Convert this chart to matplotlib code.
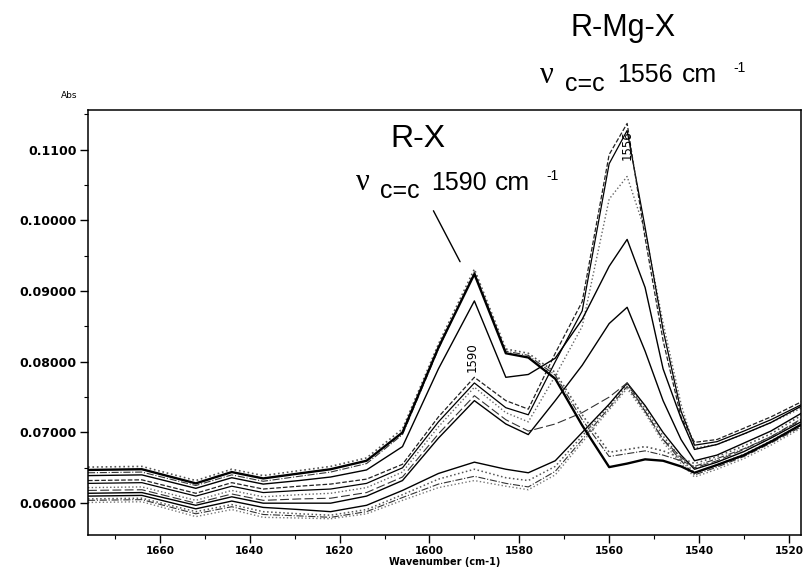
import matplotlib
matplotlib.use("Agg")
import matplotlib.pyplot as plt
from matplotlib.ticker import MultipleLocator, FixedLocator, FixedFormatter

# wavenumber grid (cm-1) and absorbance
wavenumber = [1676, 1664, 1652, 1644, 1637, 1629, 1622, 1614, 1606, 1598, 1590, 1583, 1578,
              1572, 1566, 1560, 1556, 1552, 1548, 1544, 1541, 1536, 1530, 1524, 1517]

# R-X rich spectra (strong 1590 band)
rx_dotted = [0.0651, 0.0652, 0.0632, 0.0648, 0.0639, 0.0646, 0.0652, 0.0664, 0.0705, 0.0825, 0.0931, 0.0818, 0.0812,
             0.0785, 0.0725, 0.0672, 0.0676, 0.0680, 0.0674, 0.0664, 0.0656, 0.0666, 0.0681, 0.0698, 0.0725]
rx_thick = [0.0647, 0.0648, 0.0628, 0.0644, 0.0635, 0.0642, 0.0648, 0.0660, 0.0700, 0.0820, 0.0924, 0.0812, 0.0806,
            0.0776, 0.0710, 0.0651, 0.0656, 0.0662, 0.0660, 0.0652, 0.0643, 0.0654, 0.0668, 0.0687, 0.0712]
rx_dashdot = [0.0643, 0.0644, 0.0625, 0.0640, 0.0631, 0.0638, 0.0644, 0.0656, 0.0697, 0.0818, 0.0927, 0.0815, 0.0809,
              0.0781, 0.0718, 0.0666, 0.0670, 0.0674, 0.0668, 0.0660, 0.0652, 0.0663, 0.0677, 0.0694, 0.0720]
rx_mixed = [0.0639, 0.0640, 0.0621, 0.0636, 0.0627, 0.0632, 0.0637, 0.0647, 0.0680, 0.0790, 0.0886, 0.0778, 0.0782,
            0.0805, 0.0860, 0.0935, 0.0973, 0.0905, 0.0790, 0.0720, 0.0676, 0.0683, 0.0698, 0.0714, 0.0738]

# R-Mg-X rich spectra (strong 1556 band)
mg_dashed = [0.0632, 0.0633, 0.0614, 0.0629, 0.0620, 0.0624, 0.0627, 0.0634, 0.0655, 0.0722, 0.0778, 0.0745, 0.0733,
             0.0812, 0.0885, 0.1093, 0.1137, 0.0975, 0.0830, 0.0722, 0.0686, 0.0690, 0.0706, 0.0722, 0.0744]
mg_solid = [0.0628, 0.0629, 0.0610, 0.0624, 0.0615, 0.0618, 0.0620, 0.0628, 0.0650, 0.0715, 0.0770, 0.0735, 0.0725,
            0.0800, 0.0872, 0.1080, 0.1127, 0.0990, 0.0845, 0.0730, 0.0682, 0.0687, 0.0702, 0.0718, 0.0740]
mg_dotted = [0.0622, 0.0623, 0.0604, 0.0618, 0.0609, 0.0612, 0.0614, 0.0622, 0.0644, 0.0708, 0.0764, 0.0728, 0.0715,
             0.0780, 0.0850, 0.1030, 0.1062, 0.0985, 0.0855, 0.0740, 0.0678, 0.0683, 0.0698, 0.0714, 0.0735]
mg_mid = [0.0614, 0.0615, 0.0597, 0.0609, 0.0600, 0.0600, 0.0600, 0.0610, 0.0632, 0.0692, 0.0745, 0.0712, 0.0697,
          0.0745, 0.0795, 0.0854, 0.0877, 0.0815, 0.0745, 0.0690, 0.0660, 0.0668, 0.0685, 0.0702, 0.0728]
mg_longdash = [0.0618, 0.0619, 0.0600, 0.0613, 0.0604, 0.0606, 0.0607, 0.0615, 0.0637, 0.0698, 0.0752, 0.0718, 0.0702,
               0.0712, 0.0728, 0.0750, 0.0770, 0.0730, 0.0690, 0.0665, 0.0650, 0.0660, 0.0676, 0.0694, 0.0718]

# low spectra (weak bands at both positions)
low_solid = [0.0610, 0.0611, 0.0592, 0.0603, 0.0594, 0.0591, 0.0588, 0.0597, 0.0618, 0.0642, 0.0658, 0.0648, 0.0643,
             0.0660, 0.0700, 0.0740, 0.0770, 0.0738, 0.0700, 0.0668, 0.0648, 0.0658, 0.0673, 0.0692, 0.0716]
low_dotted = [0.0606, 0.0607, 0.0588, 0.0598, 0.0588, 0.0585, 0.0583, 0.0591, 0.0612, 0.0634, 0.0648, 0.0636, 0.0632,
              0.0652, 0.0695, 0.0738, 0.0768, 0.0734, 0.0695, 0.0663, 0.0643, 0.0654, 0.0669, 0.0688, 0.0712]
low_dashdot = [0.0604, 0.0605, 0.0585, 0.0595, 0.0584, 0.0582, 0.0580, 0.0588, 0.0608, 0.0627, 0.0638, 0.0628, 0.0623,
               0.0645, 0.0690, 0.0735, 0.0765, 0.0730, 0.0690, 0.0660, 0.0640, 0.0651, 0.0666, 0.0685, 0.0709]
low_grey = [0.0601, 0.0602, 0.0581, 0.0591, 0.0580, 0.0579, 0.0578, 0.0585, 0.0604, 0.0622, 0.0632, 0.0624, 0.0619,
            0.0640, 0.0686, 0.0732, 0.0762, 0.0727, 0.0686, 0.0656, 0.0637, 0.0648, 0.0663, 0.0682, 0.0707]

y_ticks = [0.06, 0.07, 0.08, 0.09, 0.10, 0.11]
y_tick_labels = ["0.06000", "0.07000", "0.08000", "0.09000", "0.10000", "0.1100"]
x_ticks = [1660, 1640, 1620, 1600, 1580, 1560, 1540, 1520]

spectra = [
    (low_grey, dict(color="#777777", ls=":", lw=1.0)),
    (low_dashdot, dict(color="#333333", ls="-.", lw=0.8)),
    (low_dotted, dict(color="#555555", ls=":", lw=1.1)),
    (low_solid, dict(color="black", ls="-", lw=1.0)),
    (mg_longdash, dict(color="#333333", ls=(0, (8, 3)), lw=0.8)),
    (mg_mid, dict(color="black", ls="-", lw=1.0)),
    (mg_dotted, dict(color="#666666", ls=":", lw=1.0)),
    (mg_solid, dict(color="black", ls="-", lw=0.9)),
    (mg_dashed, dict(color="#222222", ls="--", lw=0.9)),
    (rx_mixed, dict(color="black", ls="-", lw=1.0)),
    (rx_dashdot, dict(color="#333333", ls="-.", lw=0.8)),
    (rx_dotted, dict(color="#555555", ls=":", lw=1.2)),
    (rx_thick, dict(color="black", ls="-", lw=1.7)),
]


def px(x, y):
    # pixel position in the 804x568 image -> figure fraction
    return x / 804, 1 - y / 568


fig = plt.figure(figsize=(8.04, 5.68), dpi=100)
ax = fig.add_axes([88 / 804, 1 - 535 / 568, (801 - 88) / 804, (535 - 110) / 568])

for values, style in spectra:
    ax.plot(wavenumber, values, **style)

ax.set_xlim(1676, 1517.3)
ax.set_ylim(0.0555, 0.1156)

ax.xaxis.set_major_locator(FixedLocator(x_ticks))
ax.xaxis.set_minor_locator(MultipleLocator(10))
ax.yaxis.set_major_locator(FixedLocator(y_ticks))
ax.yaxis.set_major_formatter(FixedFormatter(y_tick_labels))
ax.yaxis.set_minor_locator(MultipleLocator(0.005))
ax.tick_params(which="major", length=6, width=1, direction="out", pad=2, labelsize=9)
ax.tick_params(axis="x", which="major", pad=2, labelsize=7.5)
ax.tick_params(which="minor", length=3, width=0.8, direction="out")
for lab in ax.get_xticklabels() + ax.get_yticklabels():
    lab.set_fontweight("bold")
for sp in ax.spines.values():
    sp.set_linewidth(1.1)

ax.set_xlabel("Wavenumber (cm-1)", fontsize=7, fontweight="bold")
ax.xaxis.set_label_coords(0.5, (535 - 557) / 425)
fig.text(*px(77, 98), "Abs", fontsize=6.5, ha="right", va="baseline")

# peak labels written on the spectra
ax.text(1590.5, 0.0807, "1590", rotation=90, fontsize=8.5, ha="center", va="center")
ax.text(1556, 0.1107, "1556", rotation=90, fontsize=8.5, ha="center", va="center")

# leader line to the R-X band
ax.annotate("", xy=(1592.9, 0.0938), xytext=(1599.4, 0.1017),
            arrowprops=dict(arrowstyle="-", lw=1.0, color="black"))

sans = "Liberation Sans"
serif = "Liberation Serif"
fig.text(*px(623, 36), "R-Mg-X", family=sans, fontsize=22, ha="center", va="baseline")
fig.text(*px(540, 83), "\u03bd", family=serif, fontsize=22, ha="left", va="baseline")
fig.text(*px(565, 91), "c=c", family=sans, fontsize=18, ha="left", va="baseline")
fig.text(*px(617, 82), "1556", family=sans, fontsize=18, ha="left", va="baseline")
fig.text(*px(682, 82), "cm", family=sans, fontsize=19, ha="left", va="baseline")
fig.text(*px(733, 72), "-1", family=sans, fontsize=10, ha="left", va="baseline")

fig.text(*px(418, 147), "R-X", family=sans, fontsize=23, ha="center", va="baseline")
fig.text(*px(356, 190), "\u03bd", family=serif, fontsize=22, ha="left", va="baseline")
fig.text(*px(380, 198), "c=c", family=sans, fontsize=18, ha="left", va="baseline")
fig.text(*px(431, 190), "1590", family=sans, fontsize=18, ha="left", va="baseline")
fig.text(*px(495, 190), "cm", family=sans, fontsize=19, ha="left", va="baseline")
fig.text(*px(546, 180), "-1", family=sans, fontsize=10, ha="left", va="baseline")

fig.savefig("out.png", dpi=100)
